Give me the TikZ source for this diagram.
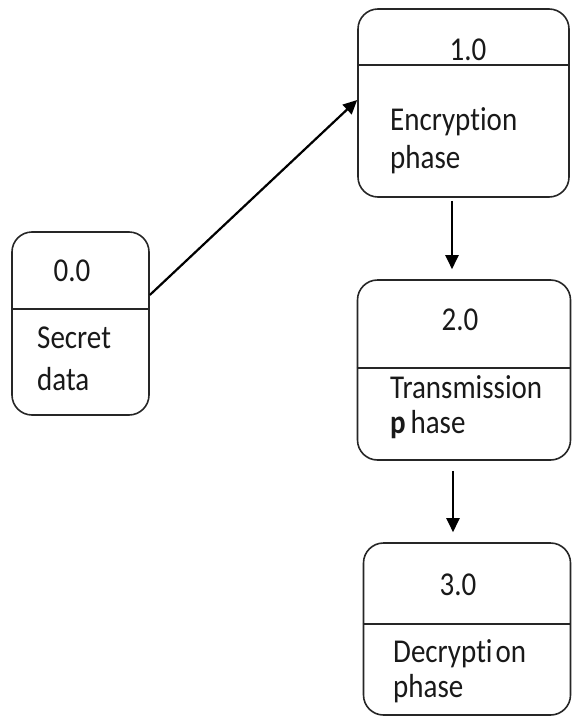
\documentclass[tikz,border=0pt]{standalone}
\usepackage{fontspec}
\setmainfont[Ligatures={NoCommon}]{Carlito}
\usetikzlibrary{arrows.meta}
\newcommand{\stretchtxt}[1]{\scalebox{1}[1.15]{#1}}
\tikzset{
  procbox/.style={draw=black!85, line width=1.6pt, rounded corners=20pt, minimum width=#1},
  divider/.style={draw=black!85, line width=1.6pt},
  lbl/.style={inner sep=0pt, font=\fontsize{29}{34}\selectfont, text=black!90},
  arr/.style={draw=black, line width=2.2pt, -{Triangle[length=14pt,width=13pt]}}
}
\begin{document}
\begin{tikzpicture}[x=1pt,y=-1pt]
\useasboundingbox (0,0) rectangle (572,717);
% boxes
\node[procbox=137pt, minimum height=183pt] (b0) at (80.5,323.5) {};
\node[procbox=211pt, minimum height=188pt] (b1) at (463.5,103) {};
\node[procbox=213pt, minimum height=180pt] (b2) at (464,370) {};
\node[procbox=207pt, minimum height=172pt] (b3) at (467,629) {};
% dividers
\draw[divider] (b0.west |- 0,309) -- (b0.east |- 0,309);
\draw[divider] (b1.west |- 0,65) -- (b1.east |- 0,65);
\draw[divider] (b2.west |- 0,368) -- (b2.east |- 0,368);
\draw[divider] (b3.west |- 0,624) -- (b3.east |- 0,624);
% labels
\node[lbl, anchor=base] (n0) at (72,281) {\stretchtxt{0.0}};
\node[lbl, anchor=base west] (t0a) at (37,348) {\stretchtxt{Secret}};
\node[lbl, anchor=base west] (t0b) at (37,390) {\stretchtxt{data}};
\node[lbl, anchor=base] (n1) at (468,60) {\stretchtxt{1.0}};
\node[lbl, anchor=base west] (t1a) at (390,130) {\stretchtxt{Encryption}};
\node[lbl, anchor=base west] (t1b) at (390,168) {\stretchtxt{phase}};
\node[lbl, anchor=base] (n2) at (460,330) {\stretchtxt{2.0}};
\node[lbl, anchor=base west] (t2a) at (390,398) {\stretchtxt{Transmission}};
\node[lbl, anchor=base west] (t2b) at (390,433) {\stretchtxt{\textbf{p}\,hase}};
\node[lbl, anchor=base] (n3) at (458,595) {\stretchtxt{3.0}};
\node[lbl, anchor=base west] (t3a) at (393,662) {\stretchtxt{Decrypti\hspace{3pt}on}};
\node[lbl, anchor=base west] (t3b) at (393,697) {\stretchtxt{phase}};
% connectors
\draw[arr] ([yshift=28.5pt]b0.east) -- ([yshift=3pt]b1.west);
\draw[arr] ([xshift=-11.5pt,yshift=-3pt]b1.south) -- ([xshift=-12pt,yshift=10pt]b2.north);
\draw[arr] ([xshift=-11pt,yshift=-10pt]b2.south) -- ([xshift=-14pt,yshift=10pt]b3.north);
\end{tikzpicture}
\end{document}
